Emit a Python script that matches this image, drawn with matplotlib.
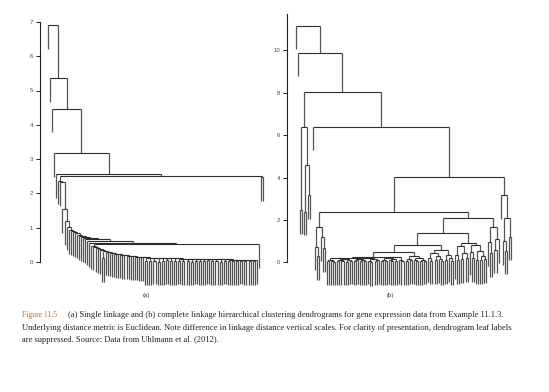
import re
import matplotlib
matplotlib.use("Agg")
import matplotlib.pyplot as plt
from matplotlib.collections import LineCollection

# ---------------- data ----------------
# Tree notation: "x" = leaf, "(left,right)h" = merge at linkage distance h

def chain(items, heights):
    s = items[-1]
    for it, h in zip(reversed(items[:-1]), reversed(heights)):
        s = f"({it},{s}){h}"
    return s

# (a) single linkage
a_top_heights = [6.9, 5.35, 4.47, 3.17, 2.57]
a_right_pair_height = 2.47
a_split_height = 2.5
a_chain_heights = [2.37, 2.33, 1.55, 1.2, 1.03, 0.93, 0.9, 0.87, 0.85, 0.8,
                   0.76, 0.72, 0.7, 0.66, 0.6, 0.55]
a_s_height = 0.52
a_w_heights = [0.48, 0.45, 0.41, 0.37, 0.34, 0.31, 0.3, 0.28, 0.27, 0.25,
               0.245, 0.23, 0.22, 0.215, 0.2, 0.19, 0.185, 0.18, 0.17, 0.165,
               0.16, 0.155, 0.15, 0.145, 0.14]
a_w_pair_pos = 5
a_w_pair_height = 0.12
a_t_heights = [0.13, 0.125, 0.12, 0.12, 0.115, 0.11, 0.11, 0.105, 0.1, 0.1,
               0.095, 0.095, 0.09, 0.09, 0.085, 0.085, 0.08, 0.08, 0.075, 0.075,
               0.07, 0.07, 0.065, 0.065, 0.06, 0.06, 0.055]
a_t_pair_heights = [0.03, 0.02, 0.04, 0.01, 0.03, 0.05, 0.02, 0.03, 0.04, 0.02,
                    0.03, 0.01, 0.04, 0.02, 0.03, 0.05, 0.02, 0.03, 0.01, 0.04,
                    0.02, 0.03, 0.02, 0.04, 0.03, 0.02, 0.03]

# (b) complete linkage
b_root_heights = [11.16, 9.89]
b_G1 = "((x,x)2.46,((x,x)2.39,(x,x)3.17)4.59)6.37"
b_G2 = "((x,(x,x)0.3)0.74,(x,(x,x)0.68)1.2)1.68"
b_G3 = "((x,(x,x)0.45)0.95,((x,x)0.6,x)1.1)1.65"
b_G4 = "(x,((x,(x,x)0.55)1.0,(x,x)1.21)2.1)3.17"
b_C2 = ("(((x,(x,x)0.1)0.35,((x,x)0.15,(x,x)0.2)0.42)0.75,"
        "((x,(x,x)0.2)0.5,((x,x)0.1,((x,x)0.12,(x,x)0.15)0.3)0.55)0.82)0.92")
b_C1b = ("(((x,(x,x)0.08)0.2,((x,x)0.1,(x,(x,x)0.05)0.14)0.3)0.45,"
         "((x,x)0.12,(x,(x,x)0.07)0.18)0.33)0.6")
b_C1d = "(((x,x)0.06,(x,x)0.09)0.16,((x,(x,x)0.04)0.11,((x,x)0.05,(x,x)0.08)0.13)0.22)0.3"
b_V = "((((x,x)0.05,(x,x)0.07)0.12,((x,(x,x)0.04)0.1,(x,x)0.06)0.15)0.2,(x,(x,x)0.05)0.11)0.24"
b_Wa = "(((x,x)0.04,(x,(x,x)0.03)0.07)0.12,(((x,x)0.05,(x,x)0.06)0.1,((x,x)0.03,(x,x)0.08)0.11)0.15)0.18"
b_Wb = "((((x,x)0.06,x)0.09,((x,x)0.04,(x,x)0.05)0.1)0.14,((x,(x,x)0.02)0.08,((x,x)0.07,x)0.12)0.16)0.2"
b_heights = {"W": 0.22, "C1c": 0.27, "C1a": 0.5, "C1": 0.82, "C": 1.37,
             "R6": 2.1, "R5": 2.36, "R4": 4.04, "R3": 6.4, "R2": 8.03}

a_ticks = [0, 1, 2, 3, 4, 5, 6, 7]
b_ticks = [0, 2, 4, 6, 8, 10]

caption_lead = "Figure 11.5"
caption_lines = [
    "(a) Single linkage and (b) complete linkage hierarchical clustering dendrograms for gene expression data from Example 11.1.3.",
    "Underlying distance metric is Euclidean. Note difference in linkage distance vertical scales. For clarity of presentation, dendrogram leaf labels",
    "are suppressed. Source: Data from Uhlmann et al. (2012).",
]

# ---------------- build trees ----------------
t_items = [f"(x,x){h}" for h in a_t_pair_heights] + ["x"]
a_T = chain(t_items, a_t_heights)
w_items = ["x"] * len(a_w_heights)
w_items[a_w_pair_pos] = f"(x,x){a_w_pair_height}"
a_W = chain(w_items + [a_T], a_w_heights)
a_S = f"({a_W},x){a_s_height}"
a_B = chain(["x"] * len(a_chain_heights) + [a_S], a_chain_heights)
a_A5 = f"({a_B},(x,x){a_right_pair_height}){a_split_height}"
tree_a = chain(["x"] * len(a_top_heights) + [a_A5], a_top_heights)

hb = b_heights
b_W = f"({b_Wa},{b_Wb}){hb['W']}"
b_C1c = f"({b_W},{b_V}){hb['C1c']}"
b_C1a = f"({b_C1c},{b_C1d}){hb['C1a']}"
b_C1 = f"({b_C1a},{b_C1b}){hb['C1']}"
b_C = f"({b_C1},{b_C2}){hb['C']}"
b_R6 = f"({b_C},{b_G3}){hb['R6']}"
b_R5 = f"({b_G2},{b_R6}){hb['R5']}"
b_R4 = f"({b_R5},{b_G4}){hb['R4']}"
b_R3 = f"(x,{b_R4}){hb['R3']}"
b_R2 = f"({b_G1},{b_R3}){hb['R2']}"
tree_b = chain(["x", "x", b_R2], b_root_heights)


def parse(s):
    toks = re.findall(r"\(|\)|,|x|[0-9]*\.?[0-9]+", s)
    pos = [0]

    def node():
        t = toks[pos[0]]
        if t == "x":
            pos[0] += 1
            return None
        assert t == "("
        pos[0] += 1
        left = node()
        assert toks[pos[0]] == ","
        pos[0] += 1
        right = node()
        assert toks[pos[0]] == ")"
        pos[0] += 1
        h = float(toks[pos[0]])
        pos[0] += 1
        return (h, left, right)

    return node()


def segments(tree, hang):
    horiz, vert = [], []
    counter = [0]

    def walk(nd):
        if nd is None:
            x = counter[0]
            counter[0] += 1
            return x, None
        h, l, r = nd
        xl, yl = walk(l)
        xr, yr = walk(r)
        horiz.append([(xl, h), (xr, h)])
        vert.append([(xl, h), (xl, yl if yl is not None else h - hang)])
        vert.append([(xr, h), (xr, yr if yr is not None else h - hang)])
        return (xl + xr) / 2.0, h

    walk(tree)
    return horiz, vert, counter[0]


# ---------------- figure ----------------
W_PX, H_PX = 549, 392
fig = plt.figure(figsize=(W_PX / 100, H_PX / 100), dpi=100)
fig.patch.set_facecolor("white")

HCOL = "#2e2e2e"
VCOL = "#555555"
TICKC = "#3c4660"
FONT = "Liberation Sans"


def make_panel(tree, hang, ax_px, leaf0_px, leafN_px, y0_px, unit_px, ticks, spine_top, label, label_px):
    horiz, vert, n = segments(parse(tree), hang)
    l, r, t, b = ax_px
    ax = fig.add_axes([l / W_PX, 1 - b / H_PX, (r - l) / W_PX, (b - t) / H_PX])
    s = (leafN_px - leaf0_px) / (n - 1)
    ax.set_xlim((l - leaf0_px) / s, (r - leaf0_px) / s)
    ax.set_ylim((y0_px - b) / unit_px, (y0_px - t) / unit_px)
    ax.add_collection(LineCollection(vert, colors=VCOL, linewidths=0.9))
    ax.add_collection(LineCollection(horiz, colors=HCOL, linewidths=0.8))
    for sp in ["top", "right", "bottom"]:
        ax.spines[sp].set_visible(False)
    ax.spines["left"].set_bounds(0, spine_top)
    ax.spines["left"].set_linewidth(0.8)
    ax.spines["left"].set_color("#222222")
    ax.set_xticks([])
    ax.set_yticks(ticks)
    ax.set_yticklabels([str(v) for v in ticks], fontsize=4.3, color=TICKC, family=FONT)
    ax.tick_params(axis="y", length=3, width=0.7, color="#222222", pad=2)
    ax.patch.set_visible(False)
    fig.text(label_px[0] / W_PX, 1 - label_px[1] / H_PX, label, fontsize=4.4,
             color="#333333", family=FONT, ha="center", va="center")
    return n


make_panel(tree_a, 0.69, (40, 272, 15, 292), 48, 263, 262, 34.3, a_ticks, 7,
           "(a)", (146, 296))
make_panel(tree_b, 1.12, (287, 522, 10, 292), 296, 511, 262.3, 21.2, b_ticks, 11.7,
           "(b)", (390, 296))

# caption
CAP = "Liberation Serif"
cap_fs = 6.15
fig.text(22 / W_PX, 1 - 315 / H_PX, caption_lead, fontsize=5.5, family=CAP,
         color="#d2642a", ha="left", va="center")
fig.text(68.5 / W_PX, 1 - 315 / H_PX, caption_lines[0], fontsize=cap_fs, family=CAP,
         color="#222222", ha="left", va="center")
fig.text(22 / W_PX, 1 - 327.5 / H_PX, caption_lines[1], fontsize=cap_fs, family=CAP,
         color="#222222", ha="left", va="center")
fig.text(22 / W_PX, 1 - 340 / H_PX, caption_lines[2], fontsize=cap_fs, family=CAP,
         color="#222222", ha="left", va="center")

fig.savefig("out.png", dpi=100, facecolor="white")
